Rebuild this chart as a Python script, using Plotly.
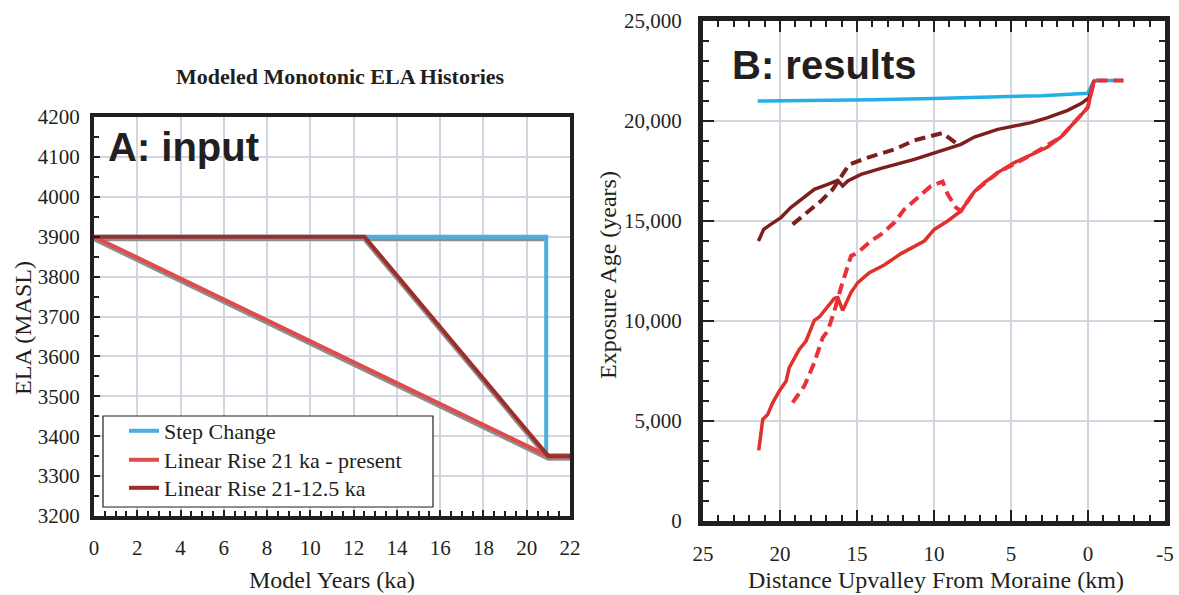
import plotly.graph_objects as go

# ---------------- Data: panel A (model input ELA histories) ----------------
step_x = [0, 20.9, 20.9, 22]
step_y = [3900, 3900, 3352, 3352]
lin21_x = [0, 21, 22]
lin21_y = [3900, 3350, 3350]
lin125_x = [0, 12.5, 21, 22]
lin125_y = [3900, 3900, 3350, 3350]
# grey model traces beneath
grey_a_x = [0, 21, 22]
grey_a_y = [3895, 3345, 3345]
grey_b_x = [0, 12.5, 21]
grey_b_y = [3895, 3895, 3345]
grey_c_x = [12.5, 20.9]
grey_c_y = [3895, 3895]

legend_names = ["Step Change", "Linear Rise 21 ka - present", "Linear Rise 21-12.5 ka"]

# ---------------- Data: panel B (results) ----------------
blue_km = [21.45, 18, 14, 10, 6, 3.0, 0.02, -0.4, -2.3]
blue_age = [21000, 21020, 21060, 21130, 21190, 21265, 21385, 22030, 22030]

dred_km = [21.4, 21.06, 20.6, 19.94, 19.3, 18.42, 17.77, 16.9, 16.25, 15.93, 15.6, 14.74,
           13.44, 11.28, 9.55, 8.25, 7.38, 5.86, 3.7, 2.62, 1.32, 0.45, -0.08, -0.4]
dred_age = [14000, 14580, 14830, 15170, 15670, 16170, 16580, 16830, 17030, 16750, 17000, 17330,
            17630, 18080, 18530, 18830, 19200, 19580, 19920, 20170, 20530, 20870, 21170, 22030]

dred_dash_km = [19.18, 18.2, 17.34, 16.58, 16.15, 15.5, 14.3, 12.58, 11.28, 9.98, 9.44, 8.46]
dred_dash_age = [14830, 15420, 16000, 16580, 17080, 17830, 18170, 18580, 19030, 19300, 19400, 18830]

red_km = [21.38, 21.12, 20.8, 20.47, 20.04, 19.6, 19.4, 18.75, 18.31, 17.77, 17.45, 16.9, 16.47,
          16.25, 15.93, 15.39, 14.95, 14.2, 13.23, 12.14, 10.63, 9.98, 9.11, 8.25, 7.38, 6.73,
          5.86, 4.78, 3.7, 2.62, 1.75, 0.89, 0.02, -0.4]
red_age = [3530, 5080, 5330, 5920, 6500, 7000, 7670, 8580, 9000, 10030, 10200, 10700, 11130,
           11170, 10530, 11420, 11920, 12420, 12800, 13370, 14000, 14580, 15000, 15500, 16470, 16920,
           17420, 17920, 18300, 18700, 19200, 19920, 20670, 22030]

red_dash_km = [19.18, 18.42, 17.77, 17.23, 16.9, 16.47, 16.04, 15.39, 14.95, 14.09, 13.44, 12.58,
               11.93, 11.06, 10.2, 9.44, 9.11, 8.57, 8.25, 7.38, 5.86, 3.7, 1.75, 0.02, -0.4, -2.3]
red_dash_age = [5920, 6750, 7920, 9170, 9500, 10500, 11670, 13250, 13420, 14000, 14330, 14920,
                15580, 16170, 16750, 16970, 16330, 15670, 15500, 16470, 17420, 18300, 19200, 20670,
                22030, 22030]

x2_tickvals = [25, 20, 15, 10, 5, 0, -5]
x2_ticktext = ["25", "20", "15", "10", "5", "0", "-5"]

W, H = 1179, 595
def px(x):
    return x / W
def py(y):
    return 1 - y / H

INK = "#231f20"
GRID = "#d3d6de"
SERIF = "Liberation Serif"
SANS = "Liberation Sans"

fig = go.Figure()

# Panel A traces
for gx, gy in [(grey_a_x, grey_a_y), (grey_b_x, grey_b_y), (grey_c_x, grey_c_y)]:
    fig.add_trace(go.Scatter(x=gx, y=gy, mode="lines", line=dict(color="#8e8e8e", width=5),
                             showlegend=False, hoverinfo="skip", xaxis="x", yaxis="y"))
fig.add_trace(go.Scatter(x=step_x, y=step_y, mode="lines", name=legend_names[0], legend="legend",
                         line=dict(color="#4aaee2", width=4), xaxis="x", yaxis="y"))
fig.add_trace(go.Scatter(x=lin21_x, y=lin21_y, mode="lines", name=legend_names[1], legend="legend2",
                         line=dict(color="#e04b4b", width=4), xaxis="x", yaxis="y"))
fig.add_trace(go.Scatter(x=lin125_x, y=lin125_y, mode="lines", name=legend_names[2], legend="legend3",
                         line=dict(color="#9e2e27", width=4), xaxis="x", yaxis="y"))

# Panel B traces
fig.add_trace(go.Scatter(x=blue_km, y=blue_age, mode="lines", line=dict(color="#22b0e6", width=3.5),
                         showlegend=False, xaxis="x2", yaxis="y2"))
fig.add_trace(go.Scatter(x=dred_dash_km, y=dred_dash_age, mode="lines",
                         line=dict(color="#7d1f1c", width=4, dash="11px,6px"),
                         showlegend=False, xaxis="x2", yaxis="y2"))
fig.add_trace(go.Scatter(x=dred_km, y=dred_age, mode="lines", line=dict(color="#7d1f1c", width=3.5),
                         showlegend=False, xaxis="x2", yaxis="y2"))
fig.add_trace(go.Scatter(x=red_km, y=red_age, mode="lines", line=dict(color="#e0302a", width=3.5),
                         showlegend=False, xaxis="x2", yaxis="y2"))
fig.add_trace(go.Scatter(x=red_dash_km, y=red_dash_age, mode="lines",
                         line=dict(color="#ec3038", width=4, dash="11px,6px"),
                         showlegend=False, xaxis="x2", yaxis="y2"))

tickfont = dict(family=SERIF, size=21, color=INK)

def legend_at(yc):
    return dict(x=px(124), y=py(yc), xanchor="left", yanchor="middle",
                bgcolor="rgba(0,0,0,0)", borderwidth=0,
                font=dict(family=SERIF, size=22, color=INK), itemwidth=30)

fig.update_layout(
    width=W, height=H,
    margin=dict(l=0, r=0, t=0, b=0, pad=0, autoexpand=False),
    paper_bgcolor="white", plot_bgcolor="white",
    showlegend=True,
    legend=legend_at(431),
    legend2=legend_at(460),
    legend3=legend_at(488),
    xaxis=dict(domain=[px(94), px(570)], range=[0, 22], dtick=2, tick0=0, automargin=False,
               showgrid=True, gridcolor=GRID, gridwidth=1.5,
               showline=True, linecolor=INK, linewidth=4, mirror=True,
               ticks="inside", ticklen=6, tickwidth=2, tickcolor=INK,
               minor=dict(dtick=0.5, ticks="inside", ticklen=5, tickwidth=2, tickcolor=INK, showgrid=False),
               tickfont=tickfont, ticklabelstandoff=10, zeroline=False, anchor="y"),
    yaxis=dict(domain=[py(516), py(117)], range=[3200, 4200], dtick=100, automargin=False,
               showgrid=True, gridcolor=GRID, gridwidth=1.5,
               showline=True, linecolor=INK, linewidth=4, mirror=True,
               ticks="inside", ticklen=6, tickwidth=2, tickcolor=INK,
               minor=dict(dtick=50, ticks="inside", ticklen=5, tickwidth=2, tickcolor=INK, showgrid=False),
               tickfont=tickfont, ticklabelstandoff=6, zeroline=False, anchor="x"),
    xaxis2=dict(domain=[px(703), px(1165)], range=[25, -5], automargin=False,
                tickmode="array", tickvals=x2_tickvals, ticktext=x2_ticktext,
                showgrid=True, gridcolor=GRID, gridwidth=1.5,
                showline=True, linecolor=INK, linewidth=5, mirror="allticks",
                ticks="inside", ticklen=11, tickwidth=2, tickcolor=INK,
                minor=dict(dtick=1, tick0=0, ticks="inside", ticklen=6, tickwidth=2, tickcolor=INK, showgrid=False),
                tickfont=tickfont, ticklabelstandoff=10, zeroline=False, anchor="y2"),
    yaxis2=dict(domain=[py(521), py(21)], range=[0, 25000], dtick=5000, tickformat=",", automargin=False,
                showgrid=True, gridcolor=GRID, gridwidth=1.5,
                showline=True, linecolor=INK, linewidth=5, mirror="allticks",
                ticks="inside", ticklen=11, tickwidth=2, tickcolor=INK,
                minor=dict(dtick=1000, ticks="inside", ticklen=6, tickwidth=2, tickcolor=INK, showgrid=False),
                tickfont=tickfont, ticklabelstandoff=12, zeroline=False, anchor="x2"),
    shapes=[dict(type="rect", xref="paper", yref="paper", layer="above",
                 x0=px(103), x1=px(433), y0=py(507), y1=py(416),
                 fillcolor="white", line=dict(color=INK, width=1.2))],
)

annotations = [
    dict(text="<b>Modeled Monotonic ELA Histories</b>", x=px(340), y=py(76),
         font=dict(family=SERIF, size=22, color=INK)),
    dict(text="<b>A: input</b>", x=px(106), y=py(147), xanchor="left",
         font=dict(family=SANS, size=40, color=INK)),
    dict(text="<b>B: results</b>", x=px(730), y=py(65), xanchor="left",
         font=dict(family=SANS, size=40, color=INK)),
    dict(text="ELA (MASL)", x=px(23), y=py(328), textangle=-90,
         font=dict(family=SERIF, size=24, color=INK)),
    dict(text="Model Years (ka)", x=px(332), y=py(580),
         font=dict(family=SERIF, size=24, color=INK)),
    dict(text="Exposure Age (years)", x=px(608), y=py(275), textangle=-90,
         font=dict(family=SERIF, size=24, color=INK)),
    dict(text="Distance Upvalley From Moraine (km)", x=px(936), y=py(580),
         font=dict(family=SERIF, size=24, color=INK)),
]
for a in annotations:
    a.update(xref="paper", yref="paper", showarrow=False)
    a.setdefault("xanchor", "center")
    a.setdefault("yanchor", "middle")
fig.update_layout(annotations=annotations)

fig.write_html("out.html")
